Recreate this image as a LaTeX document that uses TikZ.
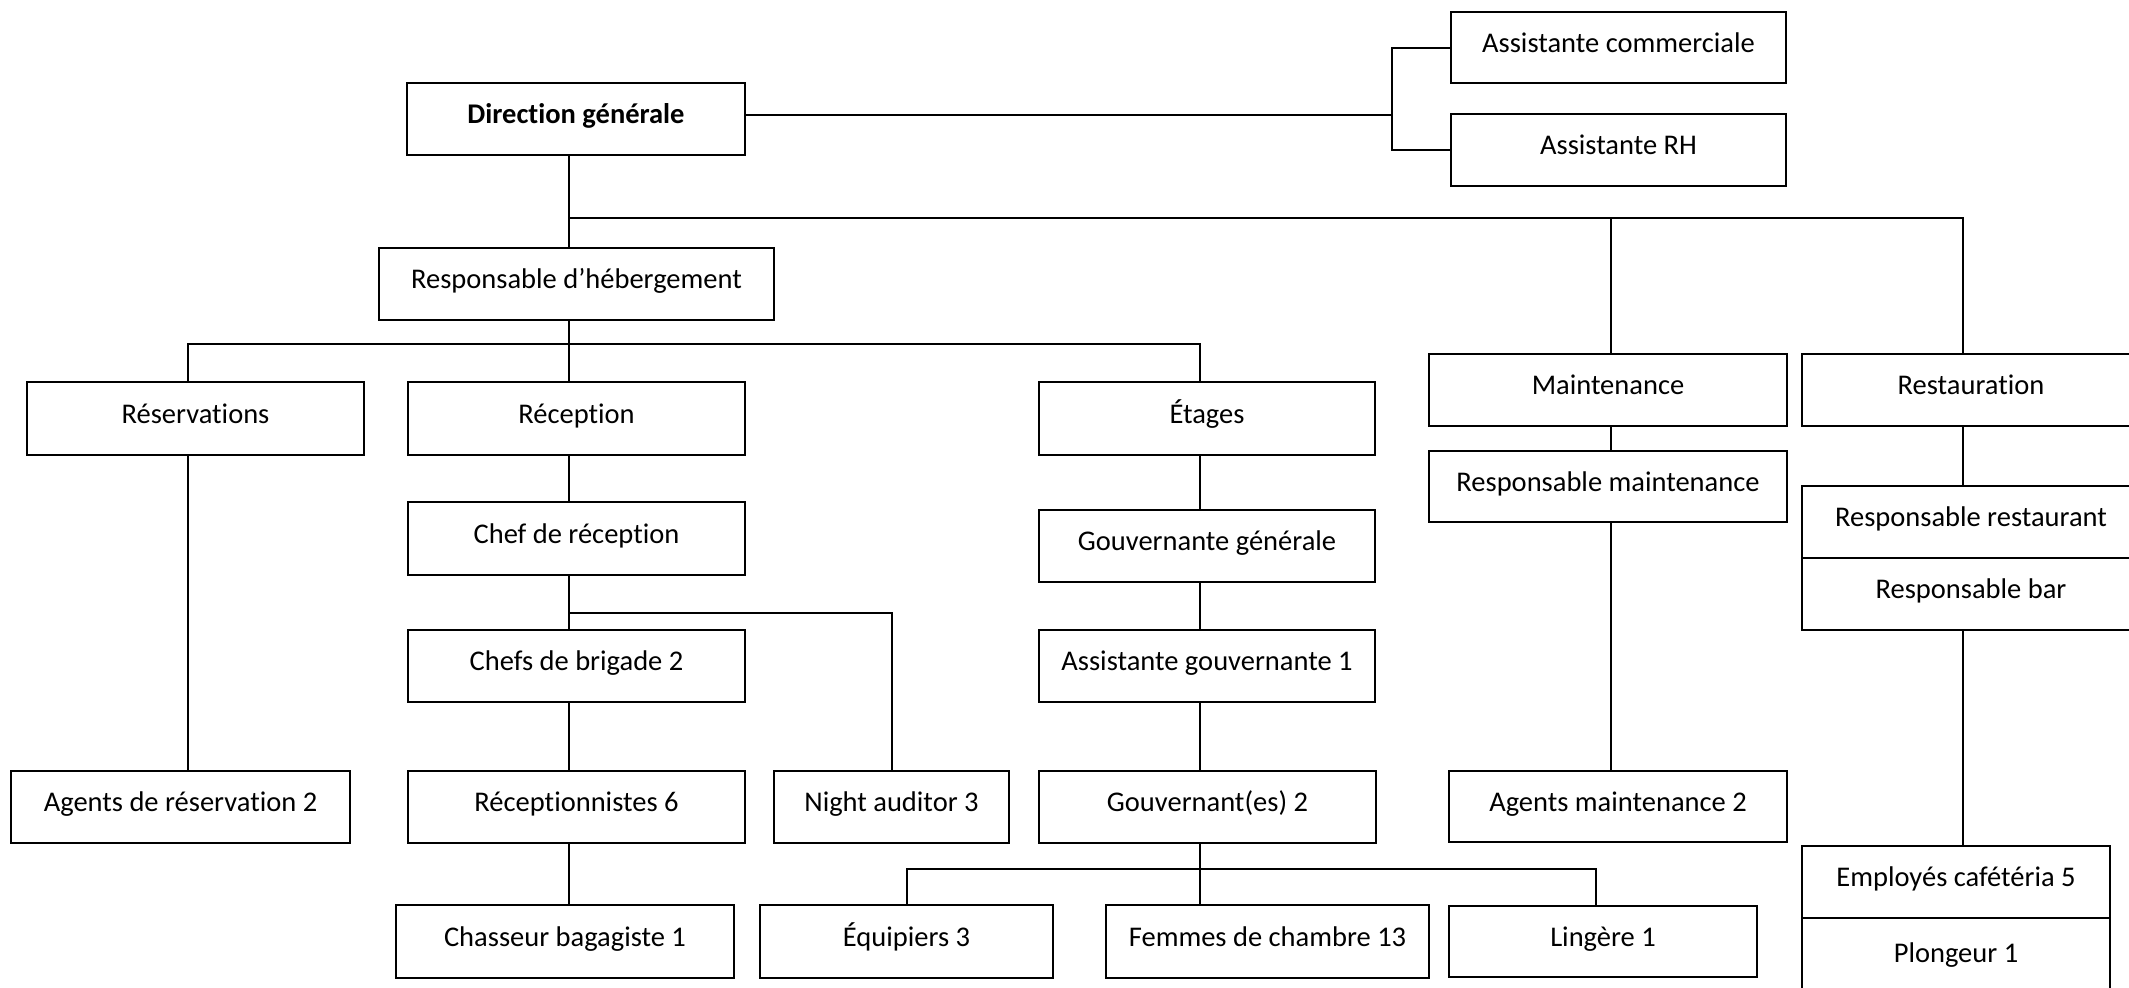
\documentclass[tikz,border=0pt]{standalone}
\usepackage{fontspec}
\setmainfont{Carlito}[Ligatures=NoCommon]
\usepackage{tikz}

\tikzset{
  post/.style={draw, line width=2.2pt, inner sep=0pt, minimum width=337pt, minimum height=72pt,
    text height=20pt, text depth=11pt},
  link/.style={draw, line width=2pt}
}

\begin{document}
\begin{tikzpicture}[x=1pt,y=-1pt,font=\fontsize{28.5}{34}\selectfont]
\useasboundingbox (0,0) rectangle (2129,988);
\clip (0,0) rectangle (2129,988);

% direction and assistants:
\node[post, minimum width=338pt] (dg) at (576,119) {\bfseries Direction générale};
\node[post, minimum width=335pt, minimum height=71pt] (ac) at (1618.5,47.5) {Assistante commerciale};
\node[post, minimum width=335pt] (arh) at (1618.5,150) {Assistante RH};

% departments:
\node[post, minimum width=395pt] (rh) at (576.5,284) {Responsable d’hébergement};
\node[post, minimum height=73pt] (res) at (195.5,418.5) {Réservations};
\node[post, minimum height=73pt] (rec) at (576.5,418.5) {Réception};
\node[post, minimum width=336pt, minimum height=73pt] (eta) at (1207,418.5) {Étages};
\node[post, minimum width=358pt] (mnt) at (1608,390) {Maintenance};
\node[post, minimum width=338pt] (rst) at (1971,390) {Restauration};

% managers:
\node[post, minimum height=73pt] (cdr) at (576.5,538.5) {Chef de réception};
\node[post, minimum width=336pt] (gg) at (1207,546) {Gouvernante générale};
\node[post, minimum width=358pt, minimum height=71pt] (rm) at (1608,486.5) {Responsable maintenance};
\node[post, minimum width=338pt] (rr) at (1971,522) {Responsable restaurant};
\node[post, minimum width=338pt] (rb) at (1971,594) {Responsable bar};
\node[post] (cb) at (576.5,666) {Chefs de brigade 2};
\node[post, minimum width=336pt] (ag) at (1207,666) {Assistante gouvernante 1};

% staff:
\node[post, minimum width=339pt] (ar) at (180.5,807) {Agents de réservation 2};
\node[post] (rcp) at (576.5,807) {Réceptionnistes 6};
\node[post, minimum width=235pt] (na) at (891.5,807) {Night auditor 3};
\node[post] (gv) at (1207.5,807) {Gouvernant(es) 2};
\node[post, minimum width=338pt, minimum height=71pt] (am) at (1618,806.5) {Agents maintenance 2};
\node[post, minimum width=338pt, minimum height=73pt] (cbg) at (565,941.5) {Chasseur bagagiste 1};
\node[post, minimum width=293pt, minimum height=73pt] (eq) at (906.5,941.5) {Équipiers 3};
\node[post, minimum width=323pt, minimum height=73pt] (fc) at (1267.5,941.5) {Femmes de chambre 13};
\node[post, minimum width=308pt, minimum height=71pt] (lg) at (1603,941.5) {Lingère 1};
\node[post, minimum width=308pt] (ec) at (1956,882) {Employés cafétéria 5};
\node[post, minimum width=308pt, minimum height=80pt] (pl) at (1956,958) {Plongeur 1};

% bus points:
\coordinate (brk) at (1392,115);
\coordinate (bus1) at (569,218);
\coordinate (bus2) at (569,344);
\coordinate (bus3) at (569,613);
\coordinate (bus4) at (1200,869);
\coordinate (colr) at (188,344);
\coordinate (colm) at (1611,218);
\coordinate (cols) at (1963,218);

% connectors:
\draw[link] (dg.east |- brk) -- (brk);
\draw[link] (ac.west) -| (brk) |- (arh.west);
\draw[link] (bus1 |- dg.south) -- (bus1 |- rh.north);
\draw[link] (bus1) -| (cols |- rst.north);
\draw[link] (colm) -- (colm |- mnt.north);
\draw[link] (colr |- res.north) -- (colr) -- (bus2) -| (bus4 |- eta.north);
\draw[link] (bus2 |- rh.south) -- (bus2 |- rec.north);
\draw[link] (colr |- res.south) -- (colr |- ar.north);
\draw[link] (bus2 |- rec.south) -- (bus2 |- cdr.north);
\draw[link] (bus3 |- cdr.south) -- (bus3 |- cb.north);
\draw[link] (bus3) -| (na.north);
\draw[link] (bus3 |- cb.south) -- (bus3 |- rcp.north);
\draw[link] (bus3 |- rcp.south) -- (bus3 |- cbg.north);
\draw[link] (bus4 |- eta.south) -- (bus4 |- gg.north);
\draw[link] (bus4 |- gg.south) -- (bus4 |- ag.north);
\draw[link] (bus4 |- ag.south) -- (bus4 |- gv.north);
\draw[link] (bus4 |- gv.south) -- (bus4 |- fc.north);
\draw[link] (eq.north) |- (bus4) -| ([xshift=-7pt]lg.north);
\draw[link] (colm |- mnt.south) -- (colm |- rm.north);
\draw[link] (colm |- rm.south) -- (colm |- am.north);
\draw[link] (cols |- rst.south) -- (cols |- rr.north);
\draw[link] (cols |- rb.south) -- (cols |- ec.north);

\end{tikzpicture}
\end{document}
